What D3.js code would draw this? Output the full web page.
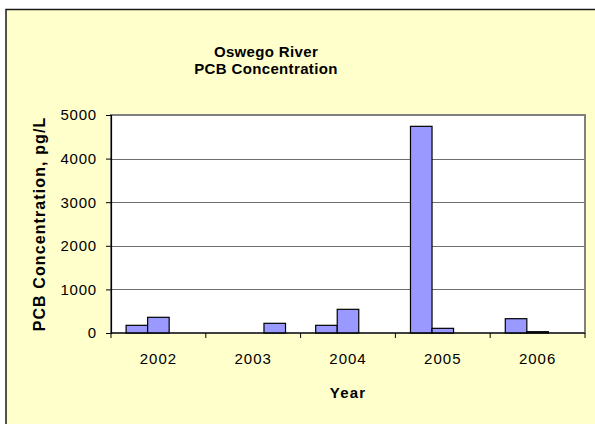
<!DOCTYPE html>
<html>
<head>
<meta charset="utf-8">
<script src="https://cdn.jsdelivr.net/npm/d3@7"></script>
<style>
  html, body { margin: 0; padding: 0; background: #ffffff; }
  svg { display: block; }
  text { font-family: "Liberation Sans", Arial, sans-serif; fill: #000; }
</style>
</head>
<body>
<svg id="chart" width="595" height="424"></svg>
<script>
// Sampling years along the x axis
const years = ["2002", "2003", "2004", "2005", "2006"];
// PCB concentrations (pg/L) per sample series; null = no sample that year
const series1 = [176, null, 176, 4740, 328];
const series2 = [360, null, 543, 107, 30];
const series3 = [null, 222, null, null, null];
const yTicks = [0, 1000, 2000, 3000, 4000, 5000];

const titleLines = ["Oswego River", "PCB Concentration"];
const yTitle = "PCB Concentration, pg/L";
const xTitle = "Year";

const svg = d3.select("#chart");

// Chart area: pale yellow panel with dark frame
svg.append("rect")
  .attr("x", 6).attr("y", 9.5)
  .attr("width", 600).attr("height", 430)
  .attr("fill", "#FFFFCC")
  .attr("stroke", "#1a1a1a").attr("stroke-width", 1.5);

const plot = { left: 111, right: 585, top: 115, bottom: 333 };

const x = d3.scaleBand().domain(years).range([plot.left, plot.right]).padding(0);
const seriesKeys = [0, 1, 2];
const xInner = d3.scaleBand().domain(seriesKeys).range([0, x.bandwidth()])
  .paddingInner(0).paddingOuter(0.7);
const y = d3.scaleLinear().domain([0, 5000]).range([plot.bottom, plot.top]);

// Plot area background
svg.append("rect")
  .attr("x", plot.left).attr("y", plot.top)
  .attr("width", plot.right - plot.left).attr("height", plot.bottom - plot.top)
  .attr("fill", "#ffffff");

// Horizontal gridlines
svg.append("g")
  .selectAll("line")
  .data(yTicks.filter(t => t > 0 && t < 5000))
  .join("line")
  .attr("x1", plot.left).attr("x2", plot.right)
  .attr("y1", d => Math.round(y(d)) + 0.5).attr("y2", d => Math.round(y(d)) + 0.5)
  .attr("stroke", "#6e6e6e").attr("stroke-width", 1);

// Plot border (grey)
svg.append("rect")
  .attr("x", plot.left).attr("y", plot.top)
  .attr("width", plot.right - plot.left).attr("height", plot.bottom - plot.top)
  .attr("fill", "none")
  .attr("stroke", "#808080").attr("stroke-width", 2);

// Bars
const allSeries = [series1, series2, series3];
const barData = [];
allSeries.forEach((vals, si) => {
  vals.forEach((v, i) => {
    if (v !== null) barData.push({ year: years[i], s: si, v: v });
  });
});
svg.append("g")
  .selectAll("rect")
  .data(barData)
  .join("rect")
  .attr("x", d => x(d.year) + xInner(d.s))
  .attr("y", d => y(d.v))
  .attr("width", xInner.bandwidth())
  .attr("height", d => y(0) - y(d.v))
  .attr("fill", "#9999FF")
  .attr("stroke", "#000000").attr("stroke-width", 1.2);

// Y axis
const yAxis = d3.axisLeft(y).tickValues(yTicks).tickSize(5).tickPadding(9)
  .tickFormat(d3.format("d"));
const gy = svg.append("g").attr("transform", `translate(${plot.left},0)`).call(yAxis);
gy.select(".domain").attr("stroke", "#000").attr("stroke-width", 1.2);
gy.selectAll(".tick line").attr("stroke", "#000");
gy.selectAll(".tick text")
  .style("font-family", "'Liberation Sans', Arial, sans-serif")
  .style("font-size", "15px").style("letter-spacing", "0.8px")
  .attr("fill", "#000");

// X axis: ticks at category boundaries, labels centred in bands
const gx = svg.append("g").attr("transform", `translate(0,${plot.bottom})`);
gx.append("line")
  .attr("x1", plot.left).attr("x2", plot.right)
  .attr("y1", 0).attr("y2", 0)
  .attr("stroke", "#000").attr("stroke-width", 1.2);
const boundaries = years.map(d => x(d)).concat([x(years[years.length - 1]) + x.bandwidth()]);
gx.selectAll("line.tk")
  .data(boundaries)
  .join("line").attr("class", "tk")
  .attr("x1", d => d).attr("x2", d => d)
  .attr("y1", 0).attr("y2", 5)
  .attr("stroke", "#000");
gx.selectAll("text")
  .data(years)
  .join("text")
  .attr("x", d => x(d) + x.bandwidth() / 2)
  .attr("y", 31)
  .attr("text-anchor", "middle")
  .style("font-size", "15px").style("letter-spacing", "1px")
  .text(d => d);

// Titles
svg.append("g").selectAll("text")
  .data(titleLines)
  .join("text")
  .attr("x", 266)
  .attr("y", (d, i) => 57 + i * 16.5)
  .attr("text-anchor", "middle")
  .style("font-size", "15px").style("font-weight", "bold").style("letter-spacing", "0.35px")
  .text(d => d);

svg.append("text")
  .attr("x", (plot.left + plot.right) / 2)
  .attr("y", 398)
  .attr("text-anchor", "middle")
  .style("font-size", "15px").style("font-weight", "bold").style("letter-spacing", "1.2px")
  .text(xTitle);

svg.append("text")
  .attr("transform", `translate(45,${(plot.top + plot.bottom) / 2}) rotate(-90)`)
  .attr("text-anchor", "middle")
  .style("font-size", "16px").style("font-weight", "bold").style("letter-spacing", "1.1px")
  .text(yTitle);
</script>
</body>
</html>
